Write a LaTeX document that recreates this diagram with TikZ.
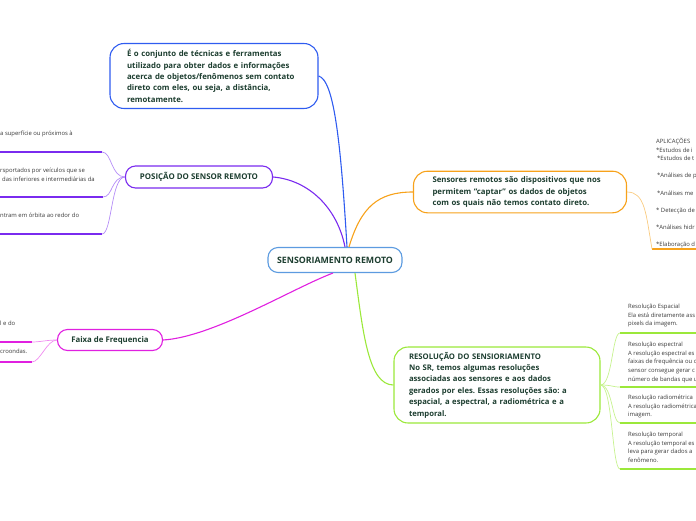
\documentclass[tikz,border=0pt]{standalone}
\usepackage{fontspec}
\setmainfont{Open Sans}
\frenchspacing
\usetikzlibrary{positioning}
\definecolor{maptext}{HTML}{1D3E30}
\definecolor{leaftext}{HTML}{3A3A3A}
\definecolor{hubblue}{HTML}{5C9BE0}
\definecolor{defblue}{HTML}{2F5CF0}
\definecolor{pospurple}{HTML}{7A2BEF}
\definecolor{poslight}{HTML}{B48CF7}
\definecolor{senorange}{HTML}{F7A21B}
\definecolor{senlight}{HTML}{F9CB80}
\definecolor{faixamag}{HTML}{E020E0}
\definecolor{faixalight}{HTML}{F08CF0}
\definecolor{resgreen}{HTML}{9BE83A}
\definecolor{reslight}{HTML}{C6F28E}
\tikzset{
  mapnode/.style={
    rectangle,
    rounded corners=10pt,
    draw,
    line width=1.1pt,
    fill=white,
    align=left,
    text=maptext,
    font=\bfseries\fontsize{7.8}{11.4}\selectfont
  },
  hubnode/.style={mapnode, draw=hubblue, align=center,
    font=\bfseries\fontsize{8.8}{10}\selectfont,
    minimum width=134pt, minimum height=25pt},
  topicnode/.style={mapnode, align=center, inner sep=2pt},
  textnode/.style={mapnode, rounded corners=14pt, inner xsep=17pt},
  leaftxt/.style={anchor=north west, inner sep=0pt, align=left,
    text=leaftext, font=\fontsize{5.9}{8.6}\selectfont},
  branch/.style={line width=1.1pt},
  twig/.style={line width=0.7pt},
  underline/.style={line width=2pt}
}
\begin{document}
\begin{tikzpicture}[x=1pt,y=-1pt]
\useasboundingbox (0,0) rectangle (696,520);
% main nodes
\node[hubnode] (hub) at (335,260) {SENSORIAMENTO REMOTO};
\node[textnode, draw=defblue, text width=174pt, inner ysep=6pt] (def) at (214,76)
  {É o conjunto de técnicas e ferramentas\\ utilizado para obter dados e informações\\
   acerca de objetos/fenômenos sem contato\\ direto com eles, ou seja, a distância,\\ remotamente.};
\node[topicnode, draw=pospurple, minimum width=147pt, minimum height=22pt,
  font=\bfseries\fontsize{7.9}{9}\selectfont] (pos) at (199,177) {POSIÇÃO DO SENSOR REMOTO};
\node[topicnode, draw=faixamag, minimum width=105pt, minimum height=21pt,
  font=\bfseries\fontsize{7.8}{9}\selectfont] (faixa) at (110,340) {Faixa de Frequencia};
\node[textnode, draw=senorange, text width=175pt, inner xsep=19pt, inner ysep=5.5pt] (sen) at (520,192)
  {Sensores remotos são dispositivos que nos\\ permitem “captar” os dados de objetos\\
   com os quais não temos contato direto.};
\node[textnode, draw=resgreen, text width=176pt, inner xsep=15pt, inner ysep=5pt,
  font=\bfseries\fontsize{7.7}{11.4}\selectfont] (res) at (497,385)
  {RESOLUÇÃO DO SENSIORIAMENTO\\ No SR, temos algumas resoluções\\ associadas aos sensores e aos dados\\
   gerados por eles. Essas resoluções são: a\\ espacial, a espectral, a radiométrica e a\\ temporal.};
% branches
\draw[branch, defblue] (def.east) .. controls +(16,4) and +(-6,-100) .. ([xshift=12pt]hub.north);
\draw[branch, pospurple] (pos.east) .. controls +(35,3) and +(-8,-40) .. ([xshift=10pt]hub.north);
\draw[branch, senorange] ([xshift=14pt]hub.north) .. controls +(12,-40) and +(-35,0) .. (sen.west);
\draw[branch, faixamag] ([xshift=-2pt]hub.south) .. controls +(-40,15) and +(50,-3) .. (faixa.east);
\draw[branch, resgreen] ([xshift=20pt]hub.south) .. controls +(8,60) and +(-25,0) .. (res.west);
% posicao leaves
\node[leaftxt] (pos1) at (0,131) {a superfície ou próximos à};
\node[leaftxt] (pos2) at (0,168) {rsportados por veículos que se\\ \hspace{2pt}das inferiores e intermediárias da};
\node[leaftxt] (pos3) at (0,213) {ntram em órbita ao redor do};
\coordinate (pos1s) at (-5,152); \coordinate (pos1e) at (102,152);
\coordinate (pos2s) at (-5,197); \coordinate (pos2e) at (103,197);
\coordinate (pos3s) at (-5,234); \coordinate (pos3e) at (102,234);
\draw[underline, pospurple] (pos1s) -- (pos1e);
\draw[underline, pospurple] (pos2s) -- (pos2e);
\draw[underline, pospurple] (pos3s) -- (pos3e);
\draw[twig, poslight] (pos.west) .. controls +(-14,0) and +(10,0) .. (pos1e);
\draw[twig, poslight] (pos.west) .. controls +(-14,0) and +(10,0) .. (pos2e);
\draw[twig, poslight] (pos.west) .. controls +(-14,0) and +(10,0) .. (pos3e);
% faixa leaves
\node[leaftxt] (faixa1) at (0,321) {l e do};
\node[leaftxt] (faixa2) at (0,349) {croondas.};
\coordinate (faixa1s) at (-5,342); \coordinate (faixa1e) at (32,342);
\coordinate (faixa2s) at (-5,362); \coordinate (faixa2e) at (32,362);
\draw[underline, faixamag] (faixa1s) -- (faixa1e);
\draw[underline, faixamag] (faixa2s) -- (faixa2e);
\draw[twig, faixalight] (faixa.west) .. controls +(-10,0) and +(8,0) .. (faixa1e);
\draw[twig, faixalight] (faixa.west) .. controls +(-10,0) and +(8,0) .. (faixa2e);
% sensores leaf
\node[leaftxt] (apl) at (656,138) {APLICAÇÕES\\ *Estudos de i\\ \hspace{1pt}*Estudos de t\\[8.6pt]
  \hspace{1pt}*Análises de p\\[8.6pt] \hspace{1pt}*Análises me\\[8.6pt] * Detecção de\\[8.6pt]
  *Análises hidr\\[8.6pt] *Elaboração d};
\coordinate (apls) at (652,249); \coordinate (aple) at (701,249);
\draw[underline, senorange] (apls) -- (aple);
\draw[twig, senlight] (sen.east) .. controls +(18,0) and +(-6,-35) .. (apls);
% resolucao leaves
\node[leaftxt] (res1) at (628,304) {Resolução Espacial\\ Ela está diretamente ass\\ pixels da imagem.};
\node[leaftxt] (res2) at (628,342) {Resolução espectral\\ A resolução espectral es\\ faixas de frequência ou c\\
  sensor consegue gerar c\\ número de bandas que u};
\node[leaftxt] (res3) at (628,395) {Resolução radiométrica\\ A resolução radiométrica\\ imagem.};
\node[leaftxt] (res4) at (628,432) {Resolução temporal\\ A resolução temporal es\\ leva para gerar dados a\\ fenômeno.};
\coordinate (res1s) at (620,333); \coordinate (res1e) at (701,333);
\coordinate (res2s) at (620,387); \coordinate (res2e) at (701,387);
\coordinate (res3s) at (620,423); \coordinate (res3e) at (701,423);
\coordinate (res4s) at (620,469); \coordinate (res4e) at (701,469);
\draw[underline, resgreen] (res1s) -- (res1e);
\draw[underline, resgreen] (res2s) -- (res2e);
\draw[underline, resgreen] (res3s) -- (res3e);
\draw[underline, resgreen] (res4s) -- (res4e);
\draw[twig, reslight] (res.east) .. controls +(12,0) and +(-8,0) .. (res1s);
\draw[twig, reslight] (res.east) .. controls +(12,0) and +(-8,0) .. (res2s);
\draw[twig, reslight] (res.east) .. controls +(12,0) and +(-8,0) .. (res3s);
\draw[twig, reslight] (res.east) .. controls +(12,0) and +(-8,0) .. (res4s);
\end{tikzpicture}
\end{document}
